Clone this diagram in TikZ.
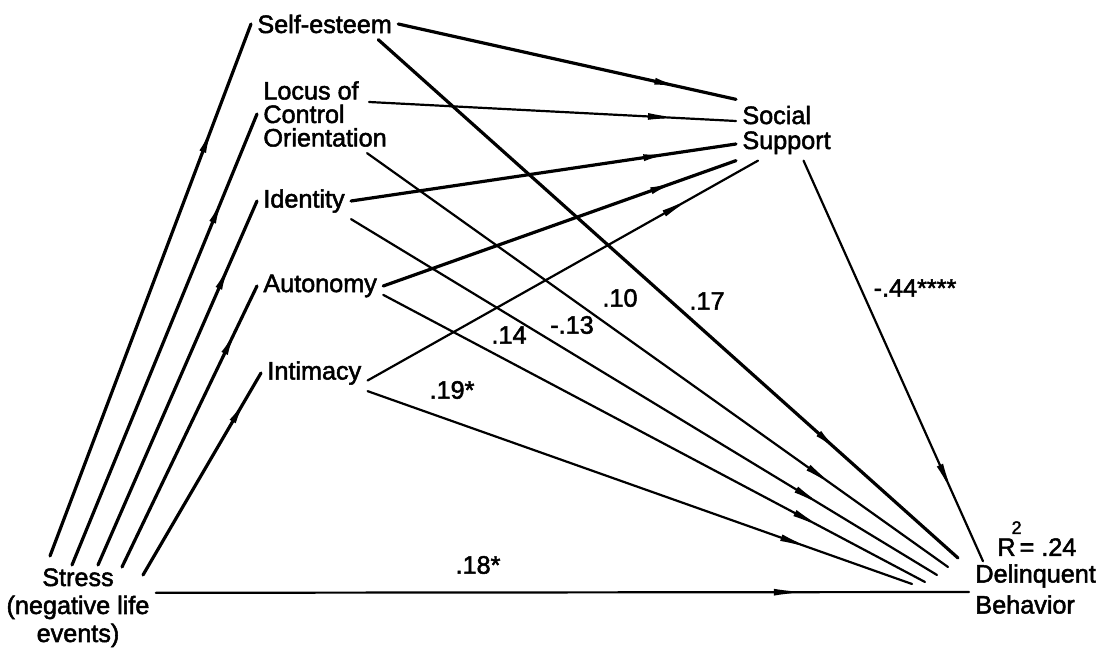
\documentclass[tikz,border=0pt]{standalone}
\usepackage{fontspec}
\setmainfont{Liberation Sans}[BoldFont={Liberation Sans}, BoldFeatures={FakeBold=2}]
\usetikzlibrary{arrows.meta,positioning,decorations.markings}
\tikzset{
  sdl/.style={x=0.5pt, y=-0.5pt, font=\fontsize{12.6}{14}\selectfont\bfseries},
  s lab/.style={inner sep=3pt, anchor=west, align=left},
  s coef/.style={inner sep=0pt},
  s link/.style={line width=1.1pt, line cap=round, postaction={decorate},
    decoration={markings, mark=at position 0.76 with {\arrow[xshift=17pt]{Latex[length=17pt, width=3.4pt]}}}},
  s heavy/.style={s link, line width=1.6pt},
}

\begin{document}
\begin{tikzpicture}[sdl]
\useasboundingbox (0,0) rectangle (1109,652);
% ---- variables ----
\node[s lab] (selfest) at (251,24) {Self-esteem};
\node[s lab, font=\fontsize{12.6}{11.75}\selectfont\bfseries] (locus) at (257,114) {Locus of\\Control\\Orientation};
\node[s lab] (ident) at (257,201) {Identity};
\node[s lab] (auton) at (257,286) {Autonomy};
\node[s lab] (intim) at (261,373) {Intimacy};
\node[s lab, font=\fontsize{12.6}{12.5}\selectfont\bfseries] (social) at (736,130) {Social\\Support};
\node[s lab, anchor=north, align=center] (stress) at (78,562) {Stress\\(negative life\\events)};
\node[s lab, font=\fontsize{12.6}{15.5}\selectfont\bfseries] (delinq) at (969,589) {Delinquent\\Behavior};
\node[s coef, above right=0.8pt and 14pt of delinq.north west] (rsq)
  {R\hspace{-2pt}\raisebox{11pt}{\fontsize{9}{9}\selectfont 2}\hspace{-1pt}= .24};
% ---- stress to the five ----
\draw[s heavy] ([xshift=-14pt, yshift=3pt]stress.north) -- (selfest.west);
\draw[s heavy] ([xshift=-3pt, yshift=-1.5pt]stress.north) -- (locus.west);
\draw[s heavy] ([xshift=10pt, yshift=-1.5pt]stress.north) -- (ident.west);
\draw[s heavy] ([xshift=22pt, yshift=-2.5pt]stress.north) -- (auton.west);
\draw[s heavy] ([xshift=32.5pt, yshift=-6.5pt]stress.north) -- (intim.west);
% ---- to social support ----
\draw[s heavy] (selfest.east) -- (social.north west);
\draw[s link] ([xshift=-12pt, yshift=6pt]locus.east) -- ([yshift=4.5pt]social.west);
\draw[s heavy] (ident.east) -- ([yshift=-7pt]social.west);
\draw[s heavy] (auton.east) -- (social.south west);
\draw[s link] (intim.-8) -- ([xshift=11pt]social.south west);
% ---- to delinquent behavior ----
\draw[s heavy] ([xshift=-10pt]selfest.south east) -- ([xshift=-5.5pt, yshift=15.5pt]delinq.west);
\draw[s link] ([xshift=-13pt]locus.south east) -- ([xshift=-10.5pt, yshift=11pt]delinq.west);
\draw[s link] (ident.south east) -- ([xshift=-16pt, yshift=7pt]delinq.west);
\draw[s link] (auton.-8) -- ([xshift=-22pt, yshift=3.5pt]delinq.west);
\draw[s link] (intim.south east) -- ([xshift=-28.5pt, yshift=2.5pt]delinq.west);
\draw[s link] ([xshift=8.5pt]social.south) -- ([xshift=7pt, yshift=-1.7pt]delinq.north west);
\draw[s link] ([yshift=7.5pt]stress.east) -- ([yshift=-1.5pt]delinq.west);
% ---- coefficients ----
\node[s coef] (k17) at (707,301) {.17};
\node[s coef] (k10) at (620,298) {.10};
\node[s coef] (k13) at (572,325) {-.13};
\node[s coef] (k14) at (509,335) {.14};
\node[s coef] (k19) at (452,390) {.19*};
\node[s coef] (k44) at (915,288) {-.44****};
\node[s coef] (k18) at (478,565) {.18*};
\end{tikzpicture}
\end{document}
